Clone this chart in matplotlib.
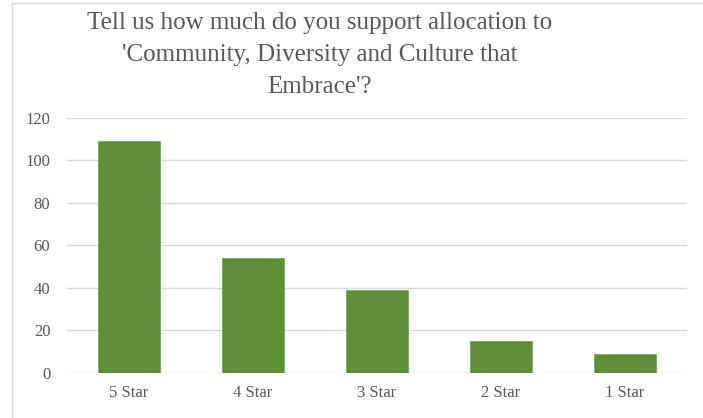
import matplotlib.pyplot as plt
from matplotlib.patches import Rectangle

categories = ["5 Star", "4 Star", "3 Star", "2 Star", "1 Star"]
counts = [109, 54, 39, 15, 9]
yticks = [0, 20, 40, 60, 80, 100, 120]
title = "Tell us how much do you support allocation to\n'Community, Diversity and Culture that\nEmbrace'?"

plt.rcParams['font.family'] = ['Liberation Serif', 'DejaVu Serif']

fig = plt.figure(figsize=(7.03, 4.18), dpi=100)
ax = fig.add_axes([0.0953, 0.1077, 0.8820, 0.6100])

x = range(len(categories))
ax.bar(x, counts, width=0.5, color="#5e8f36", edgecolor="#7aa85a", linewidth=0.6, zorder=3)

ax.set_ylim(0, 120)
ax.set_xlim(-0.5, len(categories) - 0.5)
ax.set_yticks(yticks)
ax.set_xticks(list(x))
ax.set_xticklabels(categories)
ax.yaxis.grid(True, color="#d9d9d9", linewidth=1.0, zorder=0)
for s in ["top", "right", "left", "bottom"]:
    ax.spines[s].set_visible(False)
ax.tick_params(axis="both", length=0, colors="#595959", labelsize=12)
ax.tick_params(axis="y", pad=12)
ax.tick_params(axis="x", pad=9)

fig.text(0.455, 0.972, title, ha="center", va="top", fontsize=18,
         color="#595959", linespacing=1.6)

# chart border
fig.patches.append(Rectangle((12 / 703, -0.01), 1.0, 1.0 - 3 / 418 + 0.01,
                             transform=fig.transFigure, fill=False,
                             edgecolor="#d9d9d9", linewidth=1.0))

fig.savefig("out.png", dpi=100)
